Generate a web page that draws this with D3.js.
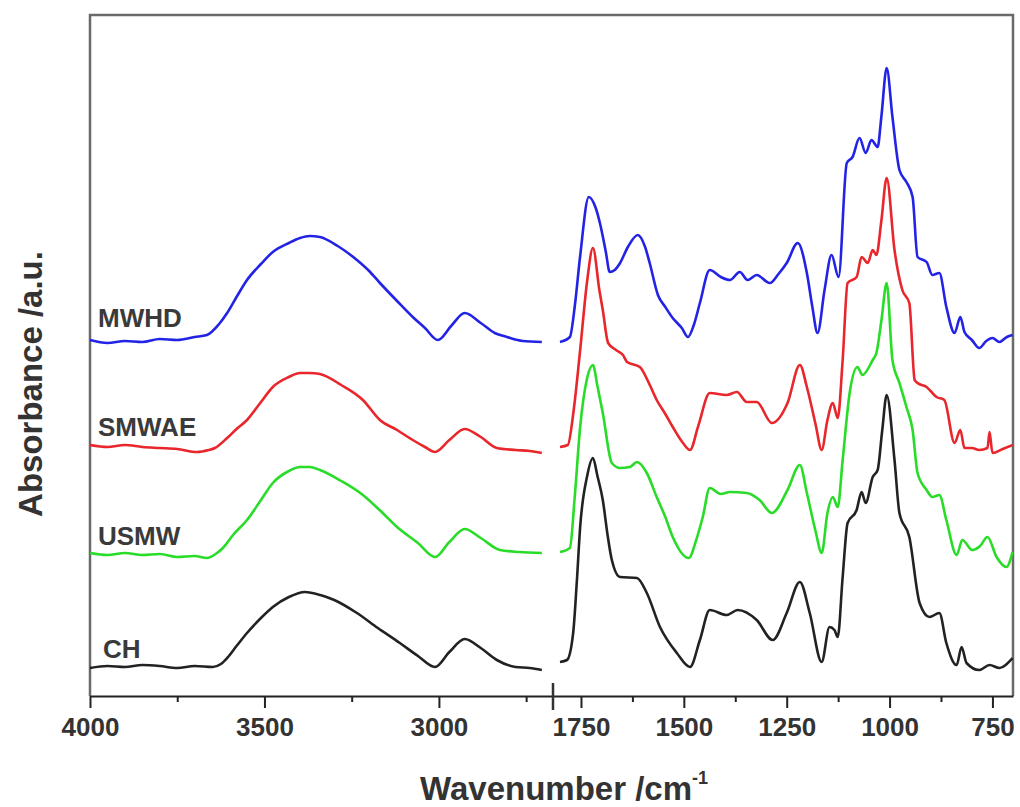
<!DOCTYPE html>
<html>
<head>
<meta charset="utf-8">
<script src="https://cdn.jsdelivr.net/npm/d3@7"></script>
<style>
  body { margin: 0; background: #fff; }
  svg { display: block; }
  .tickLabel text, .axisTitle, .seriesLabel { font-family: "Liberation Sans", Arial, sans-serif; font-weight: bold; }
  .axisTitle { font-size: 33px; fill: #333; }
  .seriesLabel { font-size: 26px; fill: #3a3a3a; }
</style>
</head>
<body>
<div class="chart"></div>
<script>
// --- data (wavenumber cm-1, absorbance a.u.) ---
var leftTicks = [4000, 3500, 3000];
var leftMinor = [3750, 3250, 2750];
var rightTicks = [1750, 1500, 1250, 1000, 750];
var rightMinor = [1625, 1375, 1125, 875];

var seriesNames = ["MWHD", "SMWAE", "USMW", "CH"];
var seriesColors = ["#2323e6", "#e8262b", "#28dc28", "#222222"];

var mwhdLeft = [[4000,35.6],[3950,35.3],[3900,35.5],[3850,35.4],[3800,35.7],[3750,35.6],[3700,35.9],[3665,36.1],[3630,37.2],[3607,38.3],[3580,39.9],[3550,41.6],[3510,43.2],[3476,44.4],[3430,45.3],[3398,45.8],[3370,46.0],[3341,45.9],[3290,45.0],[3235,43.6],[3200,42.5],[3169,41.3],[3120,39.5],[3075,37.9],[3040,36.8],[3003,35.6],[2965,37.0],[2926,38.3],[2880,37.3],[2840,36.3],[2805,35.9],[2760,35.5],[2705,35.4]];
var mwhdRight = [[1801,35.4],[1777,35.9],[1765,39.0],[1752,44.0],[1731,49.9],[1715,48.9],[1704,47.3],[1690,44.5],[1680,42.4],[1668,42.6],[1655,43.3],[1636,44.9],[1612,46.1],[1595,45.0],[1583,43.3],[1563,40.1],[1545,38.9],[1527,37.8],[1505,36.8],[1490,35.9],[1475,37.2],[1461,39.3],[1437,42.6],[1410,41.9],[1388,41.6],[1364,42.4],[1345,41.6],[1323,42.1],[1291,41.3],[1270,42.2],[1250,43.3],[1223,45.3],[1201,42.3],[1188,39.0],[1175,36.3],[1158,40.6],[1141,44.1],[1124,41.9],[1104,53.3],[1090,53.9],[1073,55.8],[1058,54.3],[1044,55.6],[1029,54.9],[1020,57.9],[1007,62.8],[993,57.9],[976,52.6],[959,51.4],[944,49.9],[932,43.9],[910,43.4],[896,42.1],[879,42.3],[862,38.9],[842,36.3],[828,37.9],[818,36.4],[800,35.6],[782,34.8],[765,35.5],[750,35.8],[733,35.4],[715,35.9],[701,36.1]];

var smwaeLeft = [[4000,25.1],[3950,24.9],[3900,25.1],[3850,24.9],[3800,24.8],[3750,24.7],[3693,24.4],[3660,24.6],[3642,24.8],[3607,25.8],[3580,26.7],[3550,27.6],[3510,29.4],[3476,30.9],[3430,31.9],[3398,32.3],[3370,32.3],[3341,32.2],[3280,31.1],[3218,29.6],[3169,27.6],[3120,26.6],[3075,25.6],[3040,24.9],[3011,24.4],[2970,25.6],[2926,26.7],[2880,25.9],[2834,24.8],[2780,24.6],[2740,24.5],[2705,24.3]];
var smwaeRight = [[1801,24.9],[1782,25.1],[1768,28.5],[1752,34.6],[1735,41.5],[1721,44.8],[1705,40.5],[1697,38.6],[1684,35.3],[1665,34.6],[1648,34.1],[1638,33.4],[1607,32.9],[1585,31.3],[1566,29.6],[1545,28.2],[1527,26.9],[1502,25.3],[1485,24.6],[1465,27.0],[1437,30.3],[1396,30.1],[1371,30.4],[1347,29.4],[1323,29.4],[1286,27.3],[1248,29.3],[1218,33.1],[1201,30.9],[1180,27.2],[1165,24.6],[1151,27.6],[1138,29.3],[1126,27.8],[1114,33.6],[1102,41.3],[1080,41.9],[1068,43.9],[1053,43.3],[1041,44.6],[1032,44.1],[1020,47.5],[1007,51.8],[988,44.6],[969,40.6],[952,39.3],[939,31.6],[932,31.3],[910,30.9],[886,29.9],[867,29.6],[842,25.3],[828,26.6],[818,24.8],[800,24.8],[782,24.6],[762,24.8],[757,26.4],[750,24.3],[725,24.7],[701,25.1]];

var usmwLeft = [[4000,14.3],[3950,14.1],[3900,14.3],[3850,14.1],[3800,14.2],[3750,13.9],[3700,14.0],[3665,13.8],[3640,14.2],[3619,14.8],[3590,16.1],[3550,17.6],[3510,19.6],[3476,21.3],[3430,22.5],[3398,22.9],[3370,22.9],[3341,22.6],[3280,21.5],[3218,20.1],[3170,18.6],[3120,16.9],[3060,15.3],[3011,13.9],[2970,15.4],[2926,16.7],[2880,15.8],[2825,14.6],[2770,14.4],[2705,14.3]];
var usmwRight = [[1801,14.4],[1777,14.8],[1765,20.0],[1752,26.9],[1735,31.8],[1721,33.1],[1710,31.0],[1697,28.3],[1675,23.3],[1655,22.8],[1631,22.9],[1614,23.4],[1590,22.3],[1566,19.9],[1545,17.9],[1527,15.9],[1488,13.8],[1470,15.6],[1454,17.9],[1437,20.8],[1410,20.2],[1388,20.4],[1347,20.3],[1316,19.6],[1286,18.3],[1248,20.6],[1218,23.1],[1201,20.3],[1180,16.5],[1165,14.3],[1151,18.3],[1138,19.9],[1126,18.9],[1114,23.6],[1097,30.3],[1078,32.9],[1066,32.1],[1041,33.6],[1032,34.3],[1020,37.5],[1007,41.3],[993,33.6],[976,31.3],[959,28.9],[944,26.6],[932,22.3],[910,20.6],[896,19.9],[879,20.1],[862,17.6],[837,14.1],[823,15.6],[799,14.6],[780,15.0],[762,15.9],[740,13.9],[716,12.9],[701,14.4]];

var chLeft = [[4000,2.8],[3950,3.0],[3900,2.9],[3850,3.1],[3800,3.0],[3750,2.8],[3700,3.0],[3648,2.9],[3625,3.2],[3607,3.8],[3580,5.0],[3550,6.3],[3510,7.8],[3476,8.9],[3430,9.9],[3384,10.4],[3340,10.1],[3300,9.6],[3235,8.3],[3175,6.8],[3112,5.3],[3060,4.0],[3011,2.9],[2970,4.4],[2926,5.7],[2880,4.8],[2834,3.6],[2780,2.9],[2740,2.8],[2705,2.6]];
var chRight = [[1801,3.4],[1784,3.6],[1769,6.3],[1760,11.5],[1752,16.9],[1735,22.0],[1721,23.8],[1710,22.0],[1697,19.6],[1685,16.0],[1675,13.6],[1655,11.9],[1614,11.8],[1590,10.3],[1558,6.9],[1517,4.3],[1485,2.9],[1461,5.6],[1437,8.6],[1396,8.1],[1369,8.6],[1323,7.6],[1284,5.6],[1250,8.3],[1218,11.4],[1194,8.3],[1165,3.4],[1146,6.9],[1134,6.6],[1126,5.9],[1114,11.9],[1102,17.3],[1080,18.6],[1068,20.4],[1058,19.3],[1041,21.9],[1029,22.6],[1018,26.5],[1007,30.1],[988,23.6],[976,18.3],[952,15.9],[927,9.3],[903,7.9],[879,8.3],[862,5.3],[837,3.1],[825,4.9],[813,3.3],[782,2.6],[757,3.1],[733,2.8],[701,3.8]];

var leftData = [mwhdLeft, smwaeLeft, usmwLeft, chLeft];
var rightData = [mwhdRight, smwaeRight, usmwRight, chRight];
var labelY = [36.9, 26.0, 15.1, 3.8];   // a.u. level of each label baseline

// --- layout ---
var W = 1020, H = 807;
var plot = { left: 90, right: 1013, top: 15, bottom: 696, brk: 553 };

var svg = d3.select(".chart").append("svg")
            .attr("width", W)
            .attr("height", H);

var xLeft = d3.scaleLinear().domain([4000, 2673]).range([plot.left, plot.brk]);
var xRight = d3.scaleLinear().domain([1818, 700]).range([plot.brk, plot.right]);
var y = d3.scaleLinear().domain([0, 68.1]).range([plot.bottom, plot.top]);

// frame (top + right + left)
svg.append("path")
   .attr("d", "M" + plot.left + "," + plot.bottom + "V" + plot.top + "H" + plot.right + "V" + plot.bottom)
   .attr("fill", "none")
   .attr("stroke", "#6a6a6a")
   .attr("stroke-width", 2.5);

// x axes (major + minor ticks for both segments)
function drawAxis(scale, major, minor) {
  var g = svg.append("g")
     .attr("class", "tickLabel")
     .attr("transform", "translate(0," + plot.bottom + ")");
  g.call(d3.axisBottom(scale).tickValues(major).tickSize(12).tickSizeOuter(0).tickPadding(10).tickFormat(d3.format("d")));
  g.selectAll("text").attr("font-size", 26).attr("fill", "#333");
  g.selectAll("line, path").attr("stroke", "#222").attr("stroke-width", 2);

  var gm = svg.append("g")
     .attr("transform", "translate(0," + plot.bottom + ")");
  gm.call(d3.axisBottom(scale).tickValues(minor).tickSize(6).tickSizeOuter(0).tickFormat(""));
  gm.select(".domain").remove();
  gm.selectAll("line").attr("stroke", "#222").attr("stroke-width", 2);
}
drawAxis(xLeft, leftTicks, leftMinor);
drawAxis(xRight, rightTicks, rightMinor);

// axis break mark
svg.append("line")
   .attr("x1", plot.brk).attr("x2", plot.brk)
   .attr("y1", plot.bottom - 13).attr("y2", plot.bottom + 14)
   .attr("stroke", "#333")
   .attr("stroke-width", 2.5);

// spectra
function lineFor(scale) {
  return d3.line()
           .x(function(d) { return scale(d[0]); })
           .y(function(d) { return y(d[1]); })
           .curve(d3.curveMonotoneX);
}

seriesNames.forEach(function(name, i) {
  svg.append("path")
     .datum(leftData[i])
     .attr("d", lineFor(xLeft))
     .attr("fill", "none")
     .attr("stroke", seriesColors[i])
     .attr("stroke-width", 2.6)
     .attr("stroke-linejoin", "round");

  svg.append("path")
     .datum(rightData[i])
     .attr("d", lineFor(xRight))
     .attr("fill", "none")
     .attr("stroke", seriesColors[i])
     .attr("stroke-width", 2.6)
     .attr("stroke-linejoin", "round");

  svg.append("text")
     .attr("class", "seriesLabel")
     .attr("x", i === 3 ? 103 : 98)
     .attr("y", y(labelY[i]))
     .text(name);
});

// axis titles
var xTitle = svg.append("text")
   .attr("class", "axisTitle")
   .attr("x", 420)
   .attr("y", 800);
xTitle.append("tspan").text("Wavenumber /cm");
xTitle.append("tspan").attr("font-size", 18).attr("dy", -16).text("-1");

svg.append("text")
   .attr("class", "axisTitle")
   .attr("text-anchor", "middle")
   .attr("transform", "translate(42,384) rotate(-90)")
   .text("Absorbance /a.u.");
</script>
</body>
</html>
